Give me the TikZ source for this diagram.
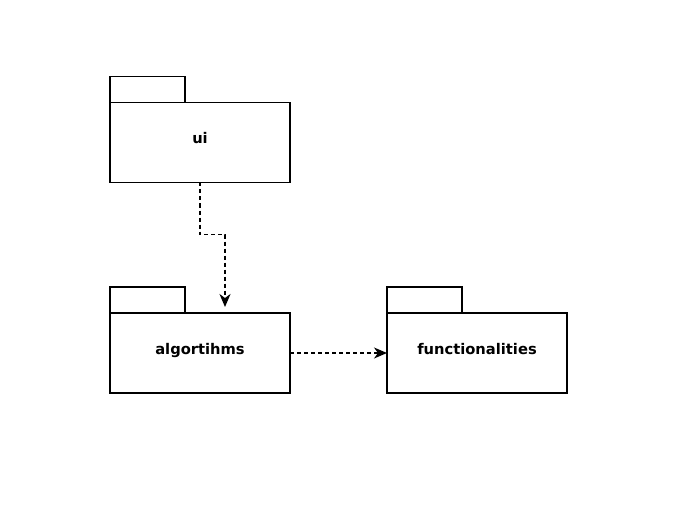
\documentclass[tikz,border=0pt]{standalone}
\usepackage{fontspec}
\setmainfont{DejaVu Sans}
\usetikzlibrary{arrows.meta}
\begin{document}
\begin{tikzpicture}[x=1pt, y=-1pt, line width=1.3pt,
		pkg/.style={draw, outer sep=0pt, minimum width=180pt, minimum height=80pt,
			text height=10pt, text depth=7pt, font=\fontsize{14.7}{17}\selectfont\bfseries},
		pkgtab/.style={draw, outer sep=0pt, minimum width=75pt, minimum height=26pt, anchor=south west},
		dep/.style={dash pattern=on 4pt off 3pt, -{Stealth[length=13pt, width=11pt, inset=4pt]}}]
		\useasboundingbox (0,0) rectangle (692,521);
		% packages
		\node[pkg] (ui) at (200,142.5) {ui};
		\node[pkgtab] (uitab) at (ui.north west) {};
		\node[pkg] (alg) at (200,353) {algortihms};
		\node[pkgtab] (algtab) at (alg.north west) {};
		\node[pkg] (func) at (477,353) {functionalities};
		\node[pkgtab] (functab) at (func.north west) {};
		% dependencies
		\draw[dep] (ui.south) -- ++(0,52) -| ([xshift=25pt, yshift=6pt]alg.north);
		\draw[dep] (alg.east) -- (func.west);
	\end{tikzpicture}
\end{document}
